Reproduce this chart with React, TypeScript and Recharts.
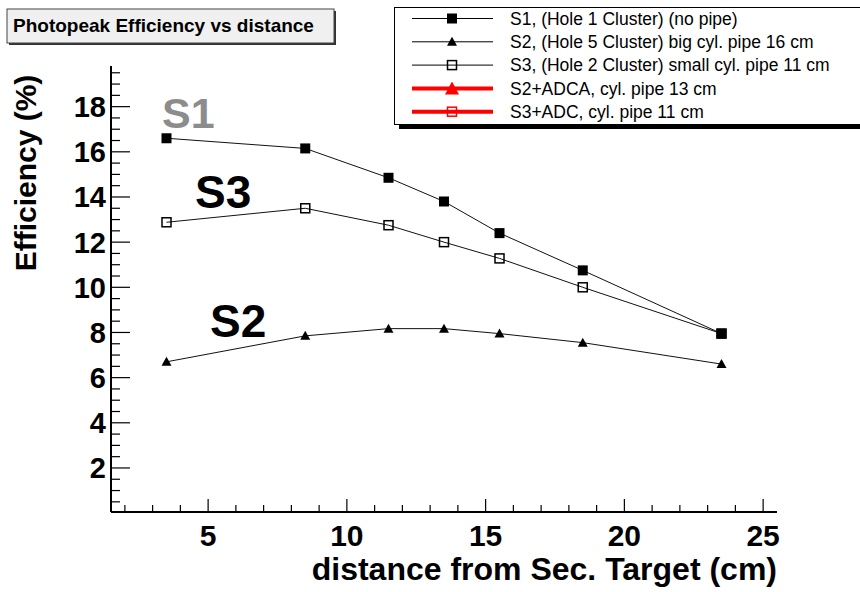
import { LineChart, Line, XAxis, YAxis } from 'recharts'

const FONT = '"Liberation Sans", Arial, Helvetica, sans-serif'

// distance from secondary target (cm)
const DIST = [3.5, 8.5, 11.5, 13.5, 15.5, 18.5, 23.5]
// photopeak efficiency (%)
const S1 = [16.6, 16.15, 14.85, 13.8, 12.4, 10.75, 7.95]
const S2 = [6.7, 7.85, 8.17, 8.17, 7.95, 7.55, 6.6]
const S3 = [12.88, 13.5, 12.75, 12.0, 11.28, 10.0, 7.95]

const X_MAJOR = [5, 10, 15, 20, 25]
const X_TICKS = Array.from({ length: 24 }, (_, i) => i + 2)
const Y_MAJOR = [2, 4, 6, 8, 10, 12, 14, 16, 18]
const Y_TICKS = Array.from({ length: 39 }, (_, i) => (i + 1) * 0.5)

const LEGEND = [
  { label: 'S1, (Hole 1 Cluster) (no pipe)', color: '#000', width: 1, marker: 'square' },
  { label: 'S2, (Hole 5 Cluster) big cyl. pipe 16 cm', color: '#000', width: 1, marker: 'triangle' },
  { label: 'S3, (Hole 2 Cluster) small cyl. pipe 11 cm', color: '#000', width: 1, marker: 'open' },
  { label: 'S2+ADCA, cyl. pipe 13 cm', color: '#ff0000', width: 4, marker: 'bigTriangle' },
  { label: 'S3+ADC, cyl. pipe 11 cm', color: '#ff0000', width: 4, marker: 'open' },
]

// recharts puts the label anchor tickSize + tickMargin away from the axis line
const TICK_SIZE = 6
const TICK_MARGIN = 2
const GAP = TICK_SIZE + TICK_MARGIN

const data = DIST.map((d, i) => ({ d, s1: S1[i], s2: S2[i], s3: S3[i] }))

function marker(kind: string, cx: number, cy: number, color: string) {
  if (kind === 'square') {
    return <rect x={cx - 5} y={cy - 5} width={10} height={10} fill={color} />
  }
  if (kind === 'open') {
    return <rect x={cx - 4.5} y={cy - 4.5} width={9} height={9} fill="none" stroke={color} strokeWidth={1.5} />
  }
  if (kind === 'bigTriangle') {
    return <path d={`M${cx},${cy - 7} L${cx + 7},${cy + 6} L${cx - 7},${cy + 6} Z`} fill={color} />
  }
  return <path d={`M${cx},${cy - 5} L${cx + 5},${cy + 4} L${cx - 5},${cy + 4} Z`} fill={color} />
}

const dotFor = (kind: string) => (props: any) => {
  const { cx, cy, index } = props
  if (cx == null || cy == null) return <g key={index} />
  return <g key={index}>{marker(kind, cx, cy, '#000')}</g>
}

const renderXTick = (props: any) => {
  const { x, y, payload } = props
  const axisY = y - GAP
  const major = X_MAJOR.includes(payload.value)
  return (
    <g>
      <line x1={x} x2={x} y1={axisY} y2={axisY - (major ? 13 : 7)} stroke="#000" strokeWidth={1.2} />
      {major && (
        <text x={x} y={axisY + 34} textAnchor="middle" fontFamily={FONT} fontWeight="bold" fontSize={30} fill="#000">
          {payload.value}
        </text>
      )}
    </g>
  )
}

const renderYTick = (props: any) => {
  const { x, y, payload } = props
  const axisX = x + GAP
  const major = Y_MAJOR.includes(payload.value)
  return (
    <g>
      <line x1={axisX} x2={axisX + (major ? 19 : 9)} y1={y} y2={y} stroke="#000" strokeWidth={1.2} />
      {major && (
        <text x={axisX - 5} y={y + 10.5} textAnchor="end" fontFamily={FONT} fontWeight="bold" fontSize={29} fill="#000">
          {payload.value}
        </text>
      )}
    </g>
  )
}

export default function App() {
  return (
    <div style={{ position: 'absolute', left: 0, top: 0, width: 860, height: 592, background: '#fff' }}>
      <LineChart width={860} height={592} data={data} margin={{ top: 66, right: 83, bottom: 0, left: 0 }}>
        <XAxis
          xAxisId="b"
          type="number"
          dataKey="d"
          domain={[1.5, 25.5]}
          allowDataOverflow
          ticks={X_TICKS}
          interval={0}
          tickLine={false}
          tickSize={TICK_SIZE}
          tickMargin={TICK_MARGIN}
          height={80}
          axisLine={{ stroke: '#000', strokeWidth: 2 }}
          tick={renderXTick}
        />
        <XAxis
          xAxisId="t"
          orientation="top"
          type="number"
          dataKey="d"
          domain={[1.5, 25.5]}
          allowDataOverflow
          height={0}
          tick={false}
          tickLine={false}
          axisLine={{ stroke: '#000', strokeWidth: 1 }}
        />
        <YAxis
          yAxisId="l"
          type="number"
          domain={[0.05, 19.8]}
          allowDataOverflow
          ticks={Y_TICKS}
          interval={0}
          tickLine={false}
          tickSize={TICK_SIZE}
          tickMargin={TICK_MARGIN}
          width={111}
          axisLine={{ stroke: '#000', strokeWidth: 2 }}
          tick={renderYTick}
        />
        <YAxis
          yAxisId="r"
          orientation="right"
          type="number"
          domain={[0.05, 19.8]}
          allowDataOverflow
          width={0}
          tick={false}
          tickLine={false}
          axisLine={{ stroke: '#000', strokeWidth: 1 }}
        />
        <Line xAxisId="b" yAxisId="l" dataKey="s1" stroke="#111" strokeWidth={1} dot={dotFor('square')} isAnimationActive={false} />
        <Line xAxisId="b" yAxisId="l" dataKey="s2" stroke="#111" strokeWidth={1} dot={dotFor('triangle')} isAnimationActive={false} />
        <Line xAxisId="b" yAxisId="l" dataKey="s3" stroke="#111" strokeWidth={1} dot={dotFor('open')} isAnimationActive={false} />
      </LineChart>

      <svg width={860} height={592} style={{ position: 'absolute', left: 0, top: 0, pointerEvents: 'none' }}>
        {/* title box */}
        <rect x={9} y={11} width={327} height={34} fill="#333" />
        <rect x={7} y={9} width={327} height={34} fill="#f0f0f0" stroke="#444" strokeWidth={1} />
        <text x={13} y={32} fontFamily={FONT} fontWeight="bold" fontSize={19} fill="#000">
          Photopeak Efficiency vs distance
        </text>

        {/* legend */}
        <rect x={399} y={12} width={480} height={117} fill="#000" />
        <rect x={394.5} y={7.5} width={480} height={117} fill="#fff" stroke="#000" strokeWidth={1} />
        {LEGEND.map((e, i) => {
          const cy = 18.5 + i * 23.3
          return (
            <g key={e.label}>
              <line x1={412} x2={493} y1={cy} y2={cy} stroke={e.color} strokeWidth={e.width} />
              {marker(e.marker, 452, cy, e.color)}
              <text x={510} y={cy + 6.3} fontFamily={FONT} fontSize={17.5} fill="#000">
                {e.label}
              </text>
            </g>
          )
        })}

        {/* annotations */}
        <text x={162} y={128} fontFamily={FONT} fontWeight="bold" fontSize={43} fill="#8c8c8c">S1</text>
        <text x={195} y={208} fontFamily={FONT} fontWeight="bold" fontSize={46} fill="#000">S3</text>
        <text x={210} y={337} fontFamily={FONT} fontWeight="bold" fontSize={46} fill="#000">S2</text>

        {/* axis titles */}
        <text x={777} y={580} textAnchor="end" fontFamily={FONT} fontWeight="bold" fontSize={32} fill="#000">
          distance from Sec. Target (cm)
        </text>
        <text
          transform="translate(36,173) rotate(-90)"
          textAnchor="middle"
          fontFamily={FONT}
          fontWeight="bold"
          fontSize={30}
          fill="#000"
        >
          Efficiency (%)
        </text>
      </svg>
    </div>
  )
}
